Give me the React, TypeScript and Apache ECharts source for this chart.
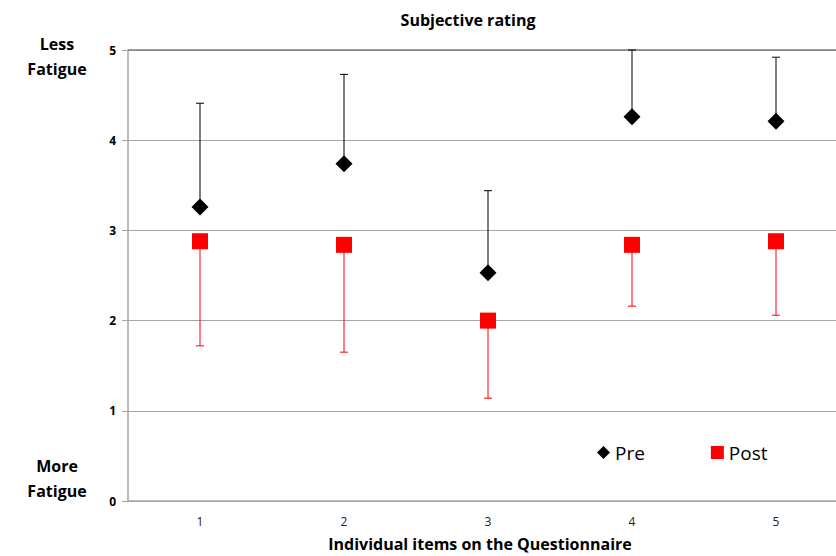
import React, { useEffect, useRef } from "react";
import * as echarts from "echarts";

const categories = ["1", "2", "3", "4", "5"];
const preMean = [3.26, 3.74, 2.53, 4.26, 4.21];
const preUpper = [4.41, 4.73, 3.44, 5.0, 4.92];
const postMean = [2.88, 2.84, 2.0, 2.84, 2.88];
const postLower = [1.72, 1.65, 1.14, 2.16, 2.06];
const yTicks = [0, 1, 2, 3, 4, 5];

const FONT = "'Open Sans', 'Liberation Sans', sans-serif";

function errorRender(color: string) {
  return (params: any, api: any) => {
    const x = api.value(0);
    const p1 = api.coord([x, api.value(1)]);
    const p2 = api.coord([x, api.value(2)]);
    const cap = 4;
    return {
      type: "group",
      children: [
        { type: "line", shape: { x1: p1[0], y1: p1[1], x2: p2[0], y2: p2[1] }, style: { stroke: color, lineWidth: 1 } },
        { type: "line", shape: { x1: p2[0] - cap, y1: p2[1], x2: p2[0] + cap, y2: p2[1] }, style: { stroke: color, lineWidth: 1 } },
      ],
    };
  };
}

export default function App() {
  const ref = useRef<HTMLDivElement>(null);
  useEffect(() => {
    const chart = echarts.init(ref.current!, null, { renderer: "svg" });
    chart.setOption({
      animation: false,
      backgroundColor: "#ffffff",
      title: {
        text: "Subjective rating",
        left: 463,
        textAlign: "center",
        top: 7,
        textStyle: { fontFamily: FONT, fontSize: 16, fontWeight: "bold", color: "#000" },
      },
      legend: {
        data: [
          { name: "Pre", icon: "diamond" },
          { name: "Post", icon: "rect" },
        ],
        left: 592,
        top: 438,
        itemWidth: 13,
        itemHeight: 13,
        itemGap: 66,
        textStyle: { fontFamily: FONT, fontSize: 19, color: "#000" },
      },
      grid: { left: 128, top: 50, bottom: 55, right: -12, containLabel: false, outerBoundsMode: "none" },
      xAxis: {
        type: "category",
        data: categories,
        boundaryGap: true,
        axisLine: { lineStyle: { color: "#a6a6a6", width: 1.5 } },
        axisTick: { show: false },
        axisLabel: { fontFamily: FONT, fontSize: 12, color: "#222", margin: 14 },
        name: "Individual items on the Questionnaire",
        nameLocation: "middle",
        nameGap: 35,
        nameTextStyle: { fontFamily: FONT, fontSize: 16, fontWeight: "bold", color: "#000", padding: [0, 0, 0, -16] },
      },
      yAxis: {
        type: "value",
        min: 0,
        max: 5,
        interval: 1,
        axisLine: { show: true, lineStyle: { color: "#a6a6a6", width: 1.5 } },
        axisTick: { show: true, length: 6, lineStyle: { color: "#a6a6a6" } },
        axisLabel: {
          fontFamily: FONT,
          fontSize: 12,
          fontWeight: "bold",
          color: "#000",
          margin: 12,
          formatter: (v: number) => (yTicks.includes(v) ? String(v) : ""),
        },
        splitLine: { lineStyle: { color: "#a6a6a6", width: 1 } },
      },
      graphic: [
        {
          type: "text",
          x: 57,
          y: 31,
          style: { text: "Less\nFatigue", fontFamily: FONT, fontSize: 16, fontWeight: "bold", fill: "#000", align: "center", verticalAlign: "top", lineHeight: 25 },
        },
        {
          type: "text",
          x: 57,
          y: 453,
          style: { text: "More\nFatigue", fontFamily: FONT, fontSize: 16, fontWeight: "bold", fill: "#000", align: "center", verticalAlign: "top", lineHeight: 25 },
        },
        {
          type: "line",
          shape: { x1: 128, y1: 50, x2: 836, y2: 50 },
          style: { stroke: "#7f7f7f", lineWidth: 1.5 },
          z: 1,
        },
      ],
      series: [
        {
          type: "custom",
          name: "preErr",
          renderItem: errorRender("#000000"),
          data: categories.map((_, i) => [i, preMean[i], preUpper[i]]),
          encode: { x: 0, y: [1, 2] },
          z: 2,
        },
        {
          type: "custom",
          name: "postErr",
          renderItem: errorRender("#ff0000"),
          data: categories.map((_, i) => [i, postMean[i], postLower[i]]),
          encode: { x: 0, y: [1, 2] },
          z: 2,
        },
        {
          type: "scatter",
          name: "Pre",
          data: preMean,
          symbol: "diamond",
          symbolSize: 17,
          itemStyle: { color: "#000000", opacity: 1 },
          z: 5,
        },
        {
          type: "scatter",
          name: "Post",
          data: postMean,
          symbol: "rect",
          symbolSize: 16,
          itemStyle: { color: "#ff0000", opacity: 1 },
          z: 5,
        },
      ],
    });
    return () => chart.dispose();
  }, []);
  return <div ref={ref} style={{ position: "absolute", left: 0, top: 0, width: 836, height: 556 }} />;
}
